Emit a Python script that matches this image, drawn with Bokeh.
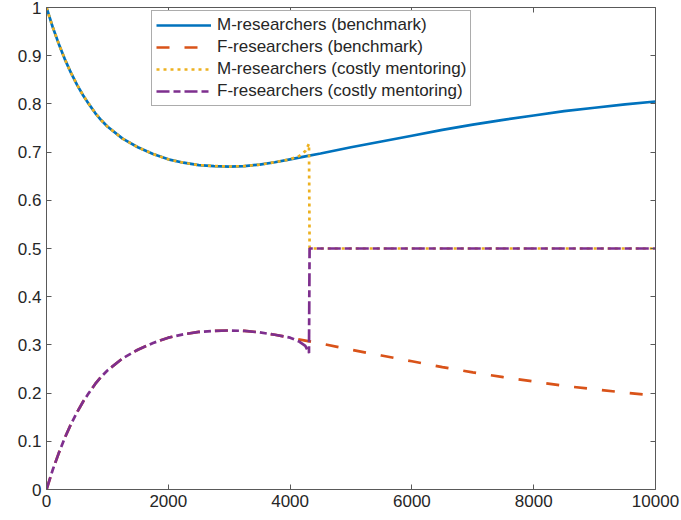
from bokeh.plotting import figure
from bokeh.models import LinearAxis, Legend, LegendItem, FixedTicker, Range1d
from bokeh.embed import file_html
from bokeh.resources import INLINE

# ---- data ----
x_bench = [0, 100, 200, 300, 400, 500, 600, 700, 800, 900, 1000, 1250, 1500, 1750,
           2000, 2250, 2500, 2750, 3000, 3250, 3500, 3750, 4000, 4250, 4500, 5000,
           5500, 6000, 6500, 7000, 7500, 8000, 8500, 9000, 9500, 10000]
m_bench = [1.000, 0.960, 0.925, 0.893, 0.865, 0.840, 0.818, 0.799, 0.781, 0.766,
           0.753, 0.728, 0.710, 0.696, 0.685, 0.678, 0.673, 0.671, 0.670, 0.671,
           0.674, 0.679, 0.685, 0.691, 0.697, 0.710, 0.722, 0.734, 0.746, 0.757,
           0.767, 0.776, 0.785, 0.792, 0.799, 0.805]
f_bench = [0.000, 0.040, 0.075, 0.107, 0.135, 0.160, 0.182, 0.201, 0.219, 0.234,
           0.247, 0.272, 0.290, 0.304, 0.315, 0.322, 0.327, 0.329, 0.330, 0.329,
           0.326, 0.321, 0.315, 0.309, 0.303, 0.290, 0.278, 0.266, 0.254, 0.243,
           0.233, 0.224, 0.215, 0.208, 0.201, 0.195]

x_costly = [0, 100, 200, 300, 400, 500, 600, 700, 800, 900, 1000, 1250, 1500, 1750,
            2000, 2250, 2500, 2750, 3000, 3250, 3500, 3750, 4000, 4150, 4250, 4310,
            4320, 10000]
m_costly = [1.000, 0.960, 0.925, 0.893, 0.865, 0.840, 0.818, 0.799, 0.781, 0.766,
            0.753, 0.728, 0.710, 0.696, 0.685, 0.678, 0.673, 0.671, 0.670, 0.671,
            0.674, 0.679, 0.685, 0.692, 0.702, 0.717, 0.500, 0.500]
f_costly = [0.000, 0.040, 0.075, 0.107, 0.135, 0.160, 0.182, 0.201, 0.219, 0.234,
            0.247, 0.272, 0.290, 0.304, 0.315, 0.322, 0.327, 0.329, 0.330, 0.329,
            0.326, 0.321, 0.315, 0.307, 0.298, 0.283, 0.500, 0.500]

x_ticks = [0, 2000, 4000, 6000, 8000, 10000]
x_tick_labels = ["0", "2000", "4000", "6000", "8000", "10000"]
y_ticks = [0, 0.1, 0.2, 0.3, 0.4, 0.5, 0.6, 0.7, 0.8, 0.9, 1]
y_tick_labels = ["0", "0.1", "0.2", "0.3", "0.4", "0.5", "0.6", "0.7", "0.8", "0.9", "1"]

series_labels = ["M-researchers (benchmark)", "F-researchers (benchmark)",
                 "M-researchers (costly mentoring)", "F-researchers (costly mentoring)"]

FONT = "Liberation Sans"
AXC = "#595959"
TXT = "#262626"

p = figure(width=680, height=518, output_backend="svg", toolbar_location=None,
           x_range=Range1d(0, 10000), y_range=Range1d(0, 1),
           min_border_left=46, min_border_right=25, min_border_top=7,
           min_border_bottom=29)
p.background_fill_color = "white"
p.border_fill_color = "white"
p.outline_line_color = AXC
p.outline_line_width = 1
p.xgrid.visible = False
p.ygrid.visible = False

r1 = p.line(x_bench, m_bench, line_color="#0072BD", line_width=2.7)
r2 = p.line(x_bench, f_bench, line_color="#D95319", line_width=2.7, line_dash="13 15")
r3 = p.line(x_costly, m_costly, line_color="#EDB120", line_width=2.7, line_dash="3 4")
r4 = p.line(x_costly, f_costly, line_color="#7E2F8E", line_width=2.7, line_dash="13 4 7 4")

x_over = {t: l for t, l in zip(x_ticks, x_tick_labels)}
y_over = {t: l for t, l in zip(y_ticks, y_tick_labels)}


def style(ax, ticks, over, show):
    ax.ticker = FixedTicker(ticks=ticks, minor_ticks=[])
    ax.axis_line_color = None
    ax.major_tick_line_color = AXC
    ax.major_tick_in = 5
    ax.major_tick_out = 0
    ax.minor_tick_line_color = None
    ax.major_label_text_font = FONT
    ax.major_label_text_color = TXT
    if show:
        ax.major_label_overrides = over
        ax.major_label_text_font_size = "17px"
    else:
        ax.major_label_overrides = {t: "" for t in ticks}
        ax.major_label_text_font_size = "1px"
        ax.major_label_standoff = 0


style(p.xaxis[0], x_ticks, x_over, True)
style(p.yaxis[0], y_ticks, y_over, True)
top = LinearAxis()
right = LinearAxis()
style(top, x_ticks, x_over, False)
style(right, y_ticks, y_over, False)
p.add_layout(top, "above")
p.add_layout(right, "right")

legend = Legend(items=[LegendItem(label=series_labels[0], renderers=[r1]),
                       LegendItem(label=series_labels[1], renderers=[r2]),
                       LegendItem(label=series_labels[2], renderers=[r3]),
                       LegendItem(label=series_labels[3], renderers=[r4])],
                location=(105, 383))
legend.label_text_font = FONT
legend.label_text_font_size = "17px"
legend.label_text_color = TXT
legend.glyph_width = 55
legend.glyph_height = 20
legend.label_height = 20
legend.label_standoff = 6
legend.spacing = 2
legend.padding = 4
legend.margin = 0
legend.border_line_color = AXC
legend.border_line_width = 1
legend.background_fill_color = "white"
legend.background_fill_alpha = 1
p.add_layout(legend)

open("out.html", "w").write(file_html(p, INLINE))
